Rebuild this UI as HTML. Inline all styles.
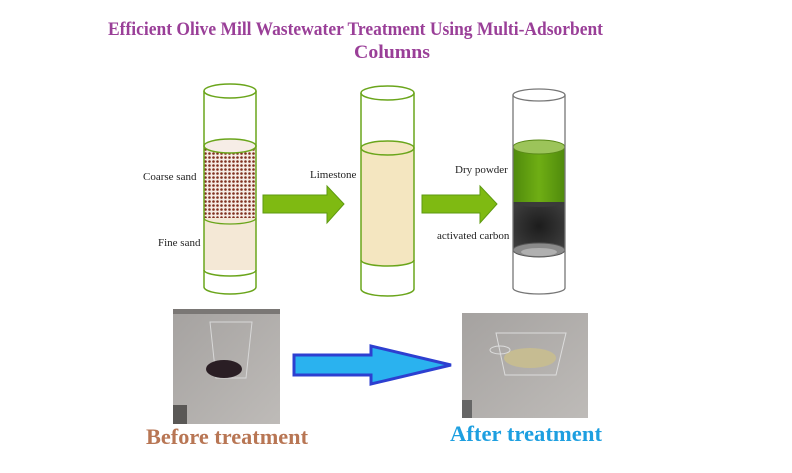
<!DOCTYPE html>
<html><head><meta charset="utf-8"><style>
html,body{margin:0;padding:0;background:#fff;}
svg{display:block;}
</style></head><body>
<svg width="792" height="473" viewBox="0 0 792 473" xmlns="http://www.w3.org/2000/svg">
<defs>
<pattern id="dots" width="4" height="4" patternUnits="userSpaceOnUse">
<rect width="4" height="4" fill="#f6ede6"/>
<circle cx="1.5" cy="1.5" r="1.3" fill="#80301f"/>
</pattern>
<radialGradient id="blk" cx="0.5" cy="0.5" r="0.6">
<stop offset="0" stop-color="#1c1c1c"/><stop offset="1" stop-color="#3c3c3c"/>
</radialGradient>
<linearGradient id="grn" x1="0" x2="1">
<stop offset="0" stop-color="#4f8a0c"/><stop offset="0.5" stop-color="#6fae14"/><stop offset="1" stop-color="#4f8a0c"/>
</linearGradient>
<linearGradient id="photo" x1="0" y1="0" x2="1" y2="1">
<stop offset="0" stop-color="#a5a2a0"/><stop offset="1" stop-color="#bebbb8"/>
</linearGradient>
</defs>

<g font-family="Liberation Serif, serif" font-weight="bold" fill="#9a3f98" font-size="19">
<text x="108" y="35" textLength="495" lengthAdjust="spacingAndGlyphs">Efficient Olive Mill Wastewater Treatment Using Multi-Adsorbent</text>
<text x="392" y="58" text-anchor="middle" textLength="76" lengthAdjust="spacingAndGlyphs">Columns</text>
</g>

<!-- Column 1 -->
<rect x="204" y="218" width="52" height="52" fill="#f4e8d6"/>
<rect x="204" y="146" width="52" height="72" fill="url(#dots)"/>
<ellipse cx="230" cy="146" rx="26" ry="7" fill="#f6ede6" stroke="#6aa51b" stroke-width="1.5"/>
<path d="M204 218 A26 6 0 0 0 256 218" fill="none" stroke="#6aa51b" stroke-width="1.3"/>
<path d="M204 270 A26 6 0 0 0 256 270" fill="none" stroke="#6aa51b" stroke-width="1.5"/>
<line x1="204" y1="91" x2="204" y2="287" stroke="#6aa51b" stroke-width="1.5"/>
<line x1="256" y1="91" x2="256" y2="287" stroke="#6aa51b" stroke-width="1.5"/>
<ellipse cx="230" cy="91" rx="26" ry="7" fill="#fff" stroke="#6aa51b" stroke-width="1.5"/>
<path d="M204 287 A26 7 0 0 0 256 287" fill="none" stroke="#6aa51b" stroke-width="1.5"/>

<!-- Column 2 -->
<rect x="361" y="148" width="53" height="112" fill="#f4e6c0"/>
<path d="M361 260 A26.5 6 0 0 0 414 260" fill="#f4e6c0" stroke="#6aa51b" stroke-width="1.5"/>
<ellipse cx="387.5" cy="148" rx="26.5" ry="7" fill="#f4e6c0" stroke="#6aa51b" stroke-width="1.5"/>
<line x1="361" y1="93" x2="361" y2="289" stroke="#6aa51b" stroke-width="1.5"/>
<line x1="414" y1="93" x2="414" y2="289" stroke="#6aa51b" stroke-width="1.5"/>
<ellipse cx="387.5" cy="93" rx="26.5" ry="7" fill="#fff" stroke="#6aa51b" stroke-width="1.5"/>
<path d="M361 289 A26.5 7 0 0 0 414 289" fill="none" stroke="#6aa51b" stroke-width="1.5"/>

<!-- Column 3 -->
<rect x="513" y="202" width="52" height="48" fill="url(#blk)"/>
<ellipse cx="539" cy="250" rx="26" ry="7" fill="#8a8a8a" stroke="#555" stroke-width="1"/>
<ellipse cx="539" cy="252" rx="18" ry="4" fill="#b0b0b0"/>
<rect x="513" y="147" width="52" height="55" fill="url(#grn)"/>
<path d="M513 202 A26 5 0 0 0 565 202" fill="#3a3a3a"/>
<ellipse cx="539" cy="147" rx="26" ry="7" fill="#9cc45a" stroke="#5a8a18" stroke-width="1"/>
<line x1="513" y1="95" x2="513" y2="288" stroke="#777" stroke-width="1.3"/>
<line x1="565" y1="95" x2="565" y2="288" stroke="#777" stroke-width="1.3"/>
<ellipse cx="539" cy="95" rx="26" ry="6" fill="#fff" stroke="#777" stroke-width="1.3"/>
<path d="M513 288 A26 6 0 0 0 565 288" fill="none" stroke="#777" stroke-width="1.3"/>

<!-- green arrows -->
<polygon points="263,195 327,195 327,186 344,204 327,223 327,213 263,213" fill="#7fba12" stroke="#5e9a10" stroke-width="1"/>
<polygon points="422,195 480,195 480,186 497,204 480,223 480,213 422,213" fill="#7fba12" stroke="#5e9a10" stroke-width="1"/>

<!-- labels -->
<g font-family="Liberation Serif, serif" font-size="11" fill="#222">
<text x="143" y="180">Coarse sand</text>
<text x="158" y="246">Fine sand</text>
<text x="310" y="178">Limestone</text>
<text x="455" y="173">Dry powder</text>
<text x="437" y="239">activated carbon</text>
</g>

<!-- photos -->
<rect x="173" y="309" width="107" height="115" fill="url(#photo)"/>
<rect x="173" y="309" width="107" height="5" fill="#7a7775"/>
<rect x="173" y="405" width="14" height="19" fill="#5a5856"/>
<path d="M210 322 L252 322 L246 378 L216 378 Z" fill="none" stroke="#d8d8d8" stroke-width="1"/>
<ellipse cx="224" cy="369" rx="18" ry="9" fill="#2a1e24"/>
<rect x="462" y="313" width="126" height="105" fill="url(#photo)"/>
<rect x="462" y="400" width="10" height="18" fill="#666"/>
<path d="M496 333 L566 333 L556 375 L505 375 Z" fill="none" stroke="#dcdcdc" stroke-width="1"/>
<ellipse cx="530" cy="358" rx="26" ry="10" fill="#c6bc92"/>
<ellipse cx="500" cy="350" rx="10" ry="4" fill="none" stroke="#ddd"/>

<!-- blue arrow -->
<polygon points="294,355 371,355 371,346 451,365 371,384 371,375 294,375" fill="#2ab2ef" stroke="#2d3fd0" stroke-width="3"/>

<g font-family="Liberation Serif, serif" font-weight="bold" font-size="22">
<text x="146" y="444" fill="#b87654" textLength="162" lengthAdjust="spacingAndGlyphs">Before treatment</text>
<text x="450" y="441" fill="#1d9fe0" textLength="152" lengthAdjust="spacingAndGlyphs">After treatment</text>
</g>
</svg>
</body></html>
